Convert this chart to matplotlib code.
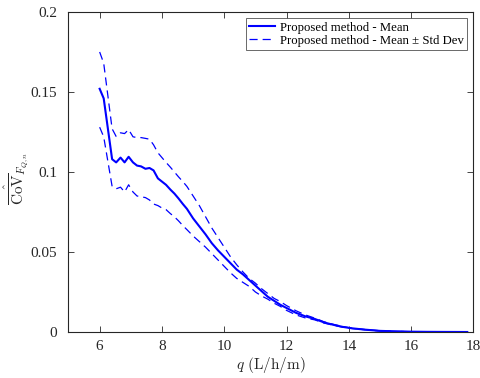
import numpy as np
import matplotlib
matplotlib.use("Agg")
import matplotlib.pyplot as plt

plt.rcParams['font.family'] = ['Liberation Serif', 'DejaVu Serif']
plt.rcParams['mathtext.fontset'] = 'cm'

# Flow rate grid (L/h/m)
q = [6.0, 6.13, 6.4, 6.53, 6.67, 6.8, 6.93, 7.07, 7.2, 7.33, 7.47, 7.6, 7.73,
     7.87, 8.0, 8.13, 8.27, 8.4, 8.53, 8.67, 8.8, 9.0, 9.2, 9.4, 9.6, 9.8,
     10.0, 10.2, 10.4, 10.6, 10.8, 11.0, 11.2, 11.4, 11.6, 11.8, 12.0, 12.3,
     12.6, 12.9, 13.2, 13.5, 13.8, 14.1, 14.5, 15.0, 15.5, 16.0, 16.5, 17.0, 17.8]

cov_mean = [0.152, 0.146, 0.108, 0.106, 0.109, 0.106, 0.1095, 0.106, 0.104, 0.1035,
            0.102, 0.1025, 0.101, 0.096, 0.094, 0.092, 0.089, 0.0865, 0.0835, 0.080,
            0.077, 0.071, 0.066, 0.061, 0.0555, 0.051, 0.047, 0.043, 0.039, 0.036,
            0.0325, 0.029, 0.0255, 0.022, 0.0195, 0.017, 0.015, 0.012, 0.0098, 0.0082,
            0.006, 0.0045, 0.0032, 0.0023, 0.0015, 0.0007, 0.0004, 0.0002, 0.0001,
            0.00005, 0.0]

cov_upper = [0.175, 0.168, 0.127, 0.1222, 0.1245, 0.124, 0.1265, 0.122, 0.1215, 0.1215,
             0.121, 0.1205, 0.117, 0.112, 0.109, 0.106, 0.103, 0.100, 0.097, 0.094,
             0.091, 0.085, 0.079, 0.072, 0.065, 0.059, 0.053, 0.047, 0.042, 0.0375,
             0.0335, 0.0305, 0.027, 0.024, 0.021, 0.019, 0.0165, 0.0133, 0.0107, 0.0087,
             0.0064, 0.0048, 0.0034, 0.0024, 0.0016, 0.0008, 0.0004, 0.0002, 0.0001,
             0.00005, 0.0]

cov_lower = [0.128, 0.122, 0.091, 0.0895, 0.0905, 0.0875, 0.092, 0.0875, 0.085, 0.0845,
             0.084, 0.0825, 0.080, 0.079, 0.0775, 0.0765, 0.074, 0.072, 0.0695, 0.0665,
             0.064, 0.060, 0.0565, 0.053, 0.049, 0.045, 0.041, 0.037, 0.0335, 0.031,
             0.0285, 0.025, 0.0225, 0.0205, 0.018, 0.016, 0.0135, 0.0107, 0.0088, 0.0076,
             0.0056, 0.0042, 0.003, 0.0022, 0.0014, 0.0006, 0.0004, 0.0002, 0.0001,
             0.00005, 0.0]

x_ticks = [6, 8, 10, 12, 14, 16, 18]
y_ticks = [0, 0.05, 0.1, 0.15, 0.2]
y_tick_labels = ['0', '0.05', '0.1', '0.15', '0.2']

fig = plt.figure(figsize=(4.81, 3.78), dpi=100)
ax = fig.add_axes([0.1424, 0.1217, 0.842, 0.8466])

blue = '#0000ff'
ax.plot(q, cov_mean, color=blue, lw=1.5, label='Proposed method - Mean')
ax.plot(q, cov_upper, color=blue, lw=0.9, dashes=(6.5, 4),
        label='Proposed method - Mean \u00b1 Std Dev')
ax.plot(q, cov_lower, color=blue, lw=0.9, dashes=(6.5, 4))

ax.set_xlim(5, 18)
ax.set_ylim(0, 0.2)
ax.set_xticks(x_ticks)
ax.set_yticks(y_ticks)
ax.set_yticklabels(y_tick_labels)

axis_color = '#262626'
for s in ax.spines.values():
    s.set_color(axis_color)
    s.set_linewidth(0.8)
ax.tick_params(direction='in', top=True, right=True, length=4, width=0.6,
               color=axis_color, labelsize=11, labelcolor=axis_color)
ax.tick_params(axis='y', pad=8)
ax.tick_params(axis='x', pad=6)

ax.set_xlabel(r'$q\ \mathrm{(L/h/m)}$', fontsize=11, color=axis_color, labelpad=1)
ax.set_ylabel(r'$\hat{\overline{\mathrm{CoV}}}_{F_{Q,n}}$', fontsize=11,
              color=axis_color)
ax.yaxis.set_label_coords(-0.092, 0.481)

leg = ax.legend(loc='upper right', fontsize=9.2, frameon=True, fancybox=False,
                borderpad=0.25, handlelength=2.0, handletextpad=0.4,
                labelspacing=0.1, borderaxespad=0.5)
leg.get_frame().set_edgecolor(axis_color)
leg.get_frame().set_linewidth(0.6)

fig.savefig('out.png', dpi=100)
